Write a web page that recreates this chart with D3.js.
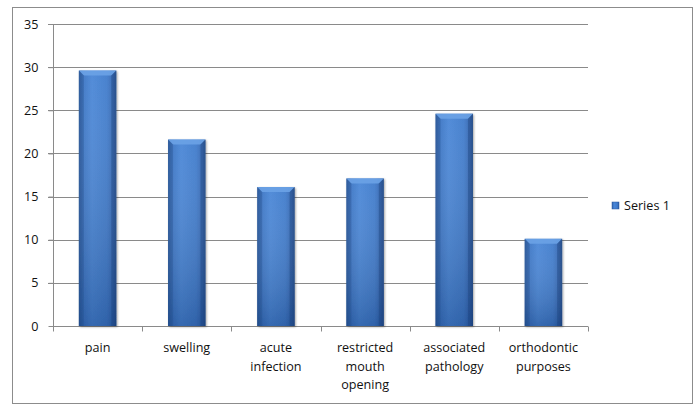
<!DOCTYPE html>
<html>
<head>
<meta charset="utf-8">
<script src="https://cdn.jsdelivr.net/npm/d3@7/dist/d3.min.js"></script>
<style>
  html, body { margin: 0; padding: 0; background: #fff; }
  svg { display: block; }
  text { font-family: "Open Sans", "Liberation Sans", sans-serif; fill: #111; }
</style>
</head>
<body>
<div id="chart"></div>
<script>
// Reasons for extraction (Series 1)
const categories = [
  ["pain"],
  ["swelling"],
  ["acute", "infection"],
  ["restricted", "mouth", "opening"],
  ["associated", "pathology"],
  ["orthodontic", "purposes"]
];
const values = [29.6, 21.6, 16.1, 17.1, 24.6, 10.1];
const yTicks = [0, 5, 10, 15, 20, 25, 30, 35];
const seriesName = "Series 1";

const W = 696, H = 405;
const plot = { left: 53, right: 588, top: 24, bottom: 326 };
const FS = 12.6;

const svg = d3.select("#chart").append("svg")
  .attr("width", W).attr("height", H);

const defs = svg.append("defs");
const hg = defs.append("linearGradient").attr("id", "barH")
  .attr("x1", 0).attr("x2", 1).attr("y1", 0).attr("y2", 0);
[[0, "#2a5aa0"], [0.12, "#3a74c4"], [0.35, "#4785d6"], [0.75, "#3e7acb"], [0.92, "#3064b0"], [1, "#254f8e"]]
  .forEach(([o, c]) => hg.append("stop").attr("offset", o).attr("stop-color", c));
const vg = defs.append("linearGradient").attr("id", "barV")
  .attr("x1", 0).attr("x2", 0).attr("y1", 0).attr("y2", 1);
[[0, "#ffffff", 0.06], [1, "#0d2a5a", 0.3]]
  .forEach(([o, c, a]) => vg.append("stop").attr("offset", o).attr("stop-color", c).attr("stop-opacity", a));
const shadow = defs.append("filter").attr("id", "shadow")
  .attr("x", "-20%").attr("y", "-5%").attr("width", "140%").attr("height", "110%");
shadow.append("feGaussianBlur").attr("in", "SourceAlpha").attr("stdDeviation", 1.2).attr("result", "b");
shadow.append("feOffset").attr("in", "b").attr("dx", 0.5).attr("dy", 0.5).attr("result", "o");
shadow.append("feComponentTransfer").attr("in", "o").attr("result", "s")
  .append("feFuncA").attr("type", "linear").attr("slope", 0.35);
const merge = shadow.append("feMerge");
merge.append("feMergeNode").attr("in", "s");
merge.append("feMergeNode").attr("in", "SourceGraphic");

// Outer frame
svg.append("rect")
  .attr("x", 12.5).attr("y", 7.5).attr("width", 680).attr("height", 396)
  .attr("fill", "#fff").attr("stroke", "#8c8c8c").attr("stroke-width", 1);

const x = d3.scaleBand()
  .domain(d3.range(categories.length))
  .range([plot.left, plot.right])
  .paddingInner(0.58).paddingOuter(0.29);
const xb = d3.scaleBand()
  .domain(d3.range(categories.length))
  .range([plot.left, plot.right]);
const y = d3.scaleLinear().domain([0, 35]).range([plot.bottom, plot.top]);

// Gridlines
svg.append("g").selectAll("line").data(yTicks.filter(d => d > 0)).join("line")
  .attr("x1", plot.left - 5).attr("x2", plot.right)
  .attr("y1", d => Math.round(y(d)) + 0.5).attr("y2", d => Math.round(y(d)) + 0.5)
  .attr("stroke", "#8a8a8a").attr("stroke-width", 1);

// Y axis
const yAxis = svg.append("g")
  .attr("transform", `translate(${plot.left + 0.5},0)`)
  .call(d3.axisLeft(y).tickValues(yTicks).tickSize(5).tickPadding(10));
yAxis.select(".domain").attr("stroke", "#8a8a8a").attr("d", `M0,${plot.top}V${plot.bottom + 0.5}`);
yAxis.selectAll(".tick line").attr("stroke", "#8a8a8a");
yAxis.selectAll(".tick text").attr("font-size", FS).attr("fill", "#111")
  .style("font-family", '"Open Sans", sans-serif');

// X axis
const xAxis = svg.append("g")
  .attr("transform", `translate(0,${plot.bottom + 0.5})`);
xAxis.append("line").attr("x1", plot.left).attr("x2", plot.right)
  .attr("stroke", "#8a8a8a");
xAxis.selectAll("line.tk").data(d3.range(categories.length + 1)).join("line")
  .attr("class", "tk")
  .attr("x1", i => Math.round(plot.left + i * xb.step()) + 0.5)
  .attr("x2", i => Math.round(plot.left + i * xb.step()) + 0.5)
  .attr("y1", 0).attr("y2", 5).attr("stroke", "#8a8a8a");

// Bars
const bars = svg.append("g").selectAll("g").data(values).join("g")
  .attr("filter", "url(#shadow)");
bars.append("rect")
  .attr("x", (d, i) => x(i)).attr("width", x.bandwidth())
  .attr("y", d => y(d)).attr("height", d => y(0) - y(d))
  .attr("fill", "url(#barH)");
bars.append("rect")
  .attr("x", (d, i) => x(i)).attr("width", x.bandwidth())
  .attr("y", d => y(d)).attr("height", d => y(0) - y(d))
  .attr("fill", "url(#barV)");
// Bevelled top edge
bars.append("path")
  .attr("d", (d, i) => {
    const x0 = x(i), x1 = x(i) + x.bandwidth(), t = y(d), b = 5;
    return `M${x0},${t}L${x1},${t}L${x1 - b},${t + b}L${x0 + b},${t + b}Z`;
  })
  .attr("fill", "#6aa2e6").attr("opacity", 0.9);
bars.append("path")
  .attr("d", (d, i) => {
    const x0 = x(i), t = y(d), b = 5;
    return `M${x0},${t}L${x0 + b},${t + b}L${x0 + b},${y(0)}L${x0},${y(0)}Z`;
  })
  .attr("fill", "#224c8a").attr("opacity", 0.35);
bars.append("path")
  .attr("d", (d, i) => {
    const x1 = x(i) + x.bandwidth(), t = y(d), b = 5;
    return `M${x1},${t}L${x1 - b},${t + b}L${x1 - b},${y(0)}L${x1},${y(0)}Z`;
  })
  .attr("fill", "#1b417a").attr("opacity", 0.4);

// Category labels
const labels = svg.append("g").selectAll("text").data(categories).join("text")
  .attr("text-anchor", "middle")
  .attr("font-size", FS)
  .attr("x", (d, i) => xb(i) + xb.bandwidth() / 2)
  .attr("y", 352);
labels.selectAll("tspan").data(d => d).join("tspan")
  .attr("x", function () { return this.parentNode.getAttribute("x"); })
  .attr("dy", (d, j) => j === 0 ? 0 : 18.5)
  .text(d => d);

// Legend
const lg = svg.append("g").attr("transform", "translate(612,202)");
lg.append("rect").attr("width", 7).attr("height", 7)
  .attr("fill", "url(#barH)").attr("stroke", "#2a5aa0").attr("stroke-width", 0.5);
lg.append("text").attr("x", 12).attr("y", 7.5).attr("font-size", FS).text(seriesName);
</script>
</body>
</html>
